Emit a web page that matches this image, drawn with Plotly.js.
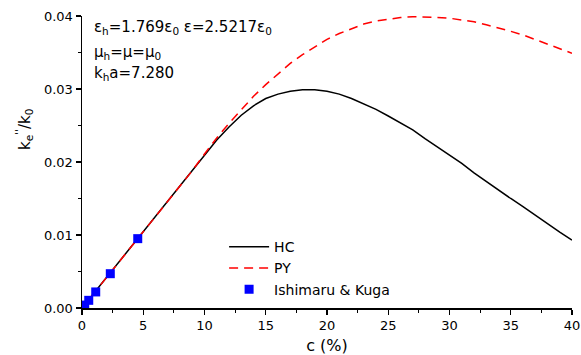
<!DOCTYPE html>
<html>
<head>
<meta charset="utf-8">
<script src="https://cdn.plot.ly/plotly-3.0.1.min.js"></script>
<style>html,body{margin:0;padding:0;background:#fff;}#chart{width:581px;height:355px;}</style>
</head>
<body>
<div id="chart"></div>
<script>
// Volume fraction c (%)
const conc = [0,1,2,3,4,5,6,7,8,9,10,11,12,13,14,15,16,17,18,19,20,
  21,22,23,24,25,26,27,28,29,30,31,32,33,34,35,36,37,38,39,40];
// Hole-correction (HC) result
const hcVals = [0,0.0021,0.0042,0.0063,0.0084,0.0104,0.0125,0.0146,0.0167,0.0188,0.0210,
  0.0230,0.0248,0.0264,0.0277,0.0287,0.0293,0.0297,0.0299,0.0299,0.0297,
  0.0293,0.0287,0.0280,0.0272,0.0263,0.0254,0.0244,0.0232,0.0221,0.0210,
  0.0198,0.0185,0.0173,0.0161,0.0150,0.0139,0.0127,0.0116,0.0104,0.0093];
// Percus-Yevick (PY) result
const pyVals = [0,0.0021,0.0042,0.0063,0.0084,0.0104,0.0125,0.0146,0.0167,0.0188,0.0211,
  0.0233,0.0253,0.0272,0.0290,0.0306,0.0321,0.0335,0.0347,0.0358,0.0368,
  0.0376,0.0383,0.0389,0.0393,0.0396,0.0398,0.0399,0.0399,0.0398,0.0397,
  0.0395,0.0392,0.0388,0.0384,0.0379,0.0374,0.0368,0.0362,0.0356,0.0349];
// Ishimaru & Kuga measurements
const ikConc = [0.22,0.55,1.12,2.31,4.55];
const ikVals = [0.0004,0.00105,0.0022,0.0047,0.0095];

const xTicks = [0,5,10,15,20,25,30,35,40];
const yTicks = [0,0.01,0.02,0.03,0.04];
const yTickText = ['0.00','0.01','0.02','0.03','0.04'];

const family = 'DejaVu Sans, Arial, sans-serif';
const tickFont = {family:family, size:13, color:'#000'};
const noteFont = {family:family, size:15, color:'#000'};
const legendFont = {family:family, size:14, color:'#000'};

const traces = [
  {x:conc, y:hcVals, name:'HC', mode:'lines', line:{color:'#000', width:1.5}},
  {x:conc, y:pyVals, name:'PY', mode:'lines', line:{color:'#ff0000', width:1.5, dash:'9px,6px'}},
  {x:ikConc, y:ikVals, name:'Ishimaru & Kuga', mode:'markers',
   marker:{symbol:'square', size:9, color:'#0000ff'}}
];

const axisCommon = {
  showline:true, linecolor:'#000', linewidth:1.5, mirror:false,
  showgrid:false, zeroline:false,
  ticks:'outside', ticklen:5, tickwidth:1.2, tickcolor:'#000',
  tickfont:tickFont
};

const layout = {
  width:581, height:355,
  margin:{l:82, r:9, t:16, b:47},
  paper_bgcolor:'#fff', plot_bgcolor:'#fff',
  font:tickFont,
  showlegend:true,
  legend:{x:0.29, y:0.263, xanchor:'left', yanchor:'top',
          bgcolor:'rgba(0,0,0,0)', font:legendFont,
          tracegroupgap:0, itemwidth:40},
  xaxis:Object.assign({}, axisCommon, {
    range:[0,40], tickvals:xTicks, ticktext:xTicks.map(String),
    minor:{dtick:2.5, tick0:0, ticks:'outside', ticklen:3, tickcolor:'#000', showgrid:false},
    title:{text:'c (%)', font:{family:family, size:16, color:'#000'}, standoff:8}
  }),
  yaxis:Object.assign({}, axisCommon, {
    range:[0,0.04], tickvals:yTicks, ticktext:yTickText,
    minor:{dtick:0.005, tick0:0, ticks:'outside', ticklen:3, tickcolor:'#000', showgrid:false}
  }),
  annotations:[
    // y-axis label, placed above the axis centre
    {xref:'paper', yref:'paper', x:-0.118, y:0.61, xanchor:'center', yanchor:'middle', showarrow:false,
     textangle:-90, text:"k<sub>e</sub><sup>''</sup>/k<sub>0</sub>", font:{family:family, size:15, color:'#000'}},
    {xref:'paper', yref:'paper', x:0.02, y:0.962, xanchor:'left', yanchor:'middle', showarrow:false,
     text:'ε<sub>h</sub>=1.769ε<sub>0</sub> ε=2.5217ε<sub>0</sub>', font:noteFont},
    {xref:'paper', yref:'paper', x:0.02, y:0.874, xanchor:'left', yanchor:'middle', showarrow:false,
     text:'μ<sub>h</sub>=μ=μ<sub>0</sub>', font:noteFont},
    {xref:'paper', yref:'paper', x:0.02, y:0.802, xanchor:'left', yanchor:'middle', showarrow:false,
     text:'k<sub>h</sub>a=7.280', font:noteFont}
  ]
};

Plotly.newPlot('chart', traces, layout, {displayModeBar:false, staticPlot:true});
</script>
</body>
</html>
